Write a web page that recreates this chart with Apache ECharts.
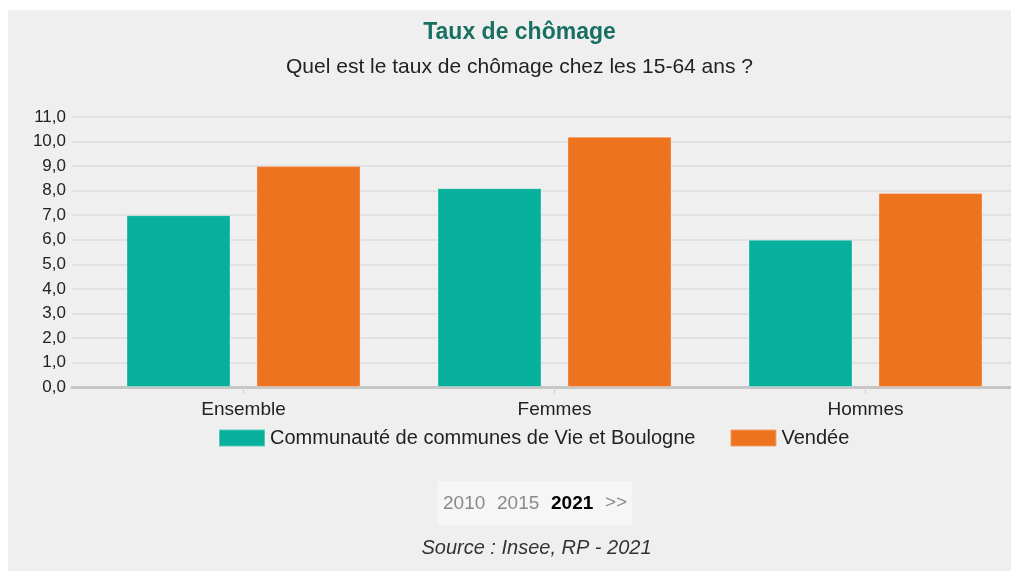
<!DOCTYPE html>
<html>
<head>
<meta charset="utf-8">
<title>Taux de chômage</title>
<script src="https://cdn.jsdelivr.net/npm/echarts@6/dist/echarts.min.js"></script>
<style>
  html, body { margin: 0; padding: 0; background: #fff; }
  #bg { position: absolute; left: 8px; top: 10px; width: 1003px; height: 561px; background: #efefef; }
  #chart { position: absolute; left: 0; top: 0; width: 1011px; height: 571px; }
</style>
</head>
<body>
<div id="bg"></div>
<div id="chart"></div>
<script>
// données
var categories = ['Ensemble', 'Femmes', 'Hommes'];
var ccValues = [7.0, 8.1, 6.0];        // Communauté de communes de Vie et Boulogne
var vendeeValues = [9.0, 10.2, 7.9];   // Vendée
var seriesNames = ['Communauté de communes de Vie et Boulogne', 'Vendée'];
var years = ['2010', '2015', '2021'];
var currentYear = '2021';
var yMin = 0, yMax = 11, yStep = 1;

var FONT = '"Liberation Sans", Arial, sans-serif';

function fmt(v) {
  return v.toFixed(1).replace('.', ',');
}

// sélecteur d'année (en bas)
var yearX = [443, 497, 551];
var timeline = [{
  type: 'rect',
  shape: { x: 438, y: 481, width: 194, height: 44 },
  style: { fill: '#f6f6f6' }
}];
years.forEach(function (y, i) {
  var cur = y === currentYear;
  timeline.push({
    type: 'text',
    x: yearX[i], y: 504,
    style: {
      text: y, fontFamily: FONT, fontSize: 19,
      fontWeight: cur ? 'bold' : 'normal',
      fill: cur ? '#000' : '#8a8a8a',
      textAlign: 'left', textVerticalAlign: 'middle'
    }
  });
});
timeline.push({
  type: 'text', x: 605, y: 503,
  style: { text: '>>', fontFamily: FONT, fontSize: 19, fill: '#8a8a8a', textAlign: 'left', textVerticalAlign: 'middle' }
});

var chart = echarts.init(document.getElementById('chart'));
chart.setOption({
  animation: false,
  backgroundColor: 'transparent',
  textStyle: { fontFamily: FONT },
  graphic: [
    {
      type: 'text', x: 519.5, y: 33,
      style: { text: 'Taux de chômage', fontFamily: FONT, fontSize: 23, fontWeight: 'bold', fill: '#1a6f63', textAlign: 'center', textVerticalAlign: 'middle' }
    },
    {
      type: 'text', x: 519.5, y: 67,
      style: { text: 'Quel est le taux de chômage chez les 15-64 ans ?', fontFamily: FONT, fontSize: 21, fill: '#222', textAlign: 'center', textVerticalAlign: 'middle' }
    },
    {
      type: 'text', x: 536.5, y: 548,
      style: { text: 'Source : Insee, RP - 2021', fontFamily: FONT, fontSize: 20, fontStyle: 'italic', fill: '#333', textAlign: 'center', textVerticalAlign: 'middle' }
    }
  ].concat(timeline),
  legend: {
    data: seriesNames,
    left: 213,
    top: 423,
    icon: 'rect',
    itemWidth: 46,
    itemHeight: 17,
    itemGap: 34,
    textStyle: { fontFamily: FONT, fontSize: 20, color: '#222' }
  },
  grid: [
    { left: 72, right: 0, top: 117, bottom: 184, outerBoundsMode: 'none' },   // cadre : graduations, lignes
    { left: 88, width: 933, top: 117, bottom: 184, outerBoundsMode: 'none' }  // barres (déborde à droite comme l'original)
  ],
  xAxis: [
    {
      gridIndex: 0, type: 'value', min: 0, max: 1,
      axisLine: { show: true, lineStyle: { color: '#c6c6c6', width: 3 } },
      axisTick: { show: false }, axisLabel: { show: false }, splitLine: { show: false }
    },
    {
      gridIndex: 1, type: 'category', data: categories,
      axisLine: { show: false },
      axisTick: { show: true, alignWithLabel: true, length: 7, lineStyle: { color: '#cfcfcf' } },
      axisLabel: { fontFamily: FONT, fontSize: 19, color: '#222', margin: 13 }
    }
  ],
  yAxis: [
    {
      gridIndex: 0, type: 'value', min: yMin, max: yMax, interval: yStep,
      axisLine: { show: false }, axisTick: { show: false },
      axisLabel: { fontFamily: FONT, fontSize: 17, color: '#222', margin: 6, formatter: fmt },
      splitLine: { lineStyle: { color: '#e1e1e1', width: 2 } }
    },
    {
      gridIndex: 1, type: 'value', min: yMin, max: yMax, interval: yStep, show: false
    }
  ],
  series: [
    {
      name: seriesNames[0], type: 'bar', xAxisIndex: 1, yAxisIndex: 1,
      data: ccValues, barWidth: 104, barGap: '25%',
      itemStyle: { color: '#06b09c', borderColor: 'rgba(255,255,255,0.3)', borderWidth: 1 }
    },
    {
      name: seriesNames[1], type: 'bar', xAxisIndex: 1, yAxisIndex: 1,
      data: vendeeValues, barWidth: 104, barGap: '25%',
      itemStyle: { color: '#ee731f', borderColor: 'rgba(255,255,255,0.3)', borderWidth: 1 }
    }
  ]
});
</script>
</body>
</html>
